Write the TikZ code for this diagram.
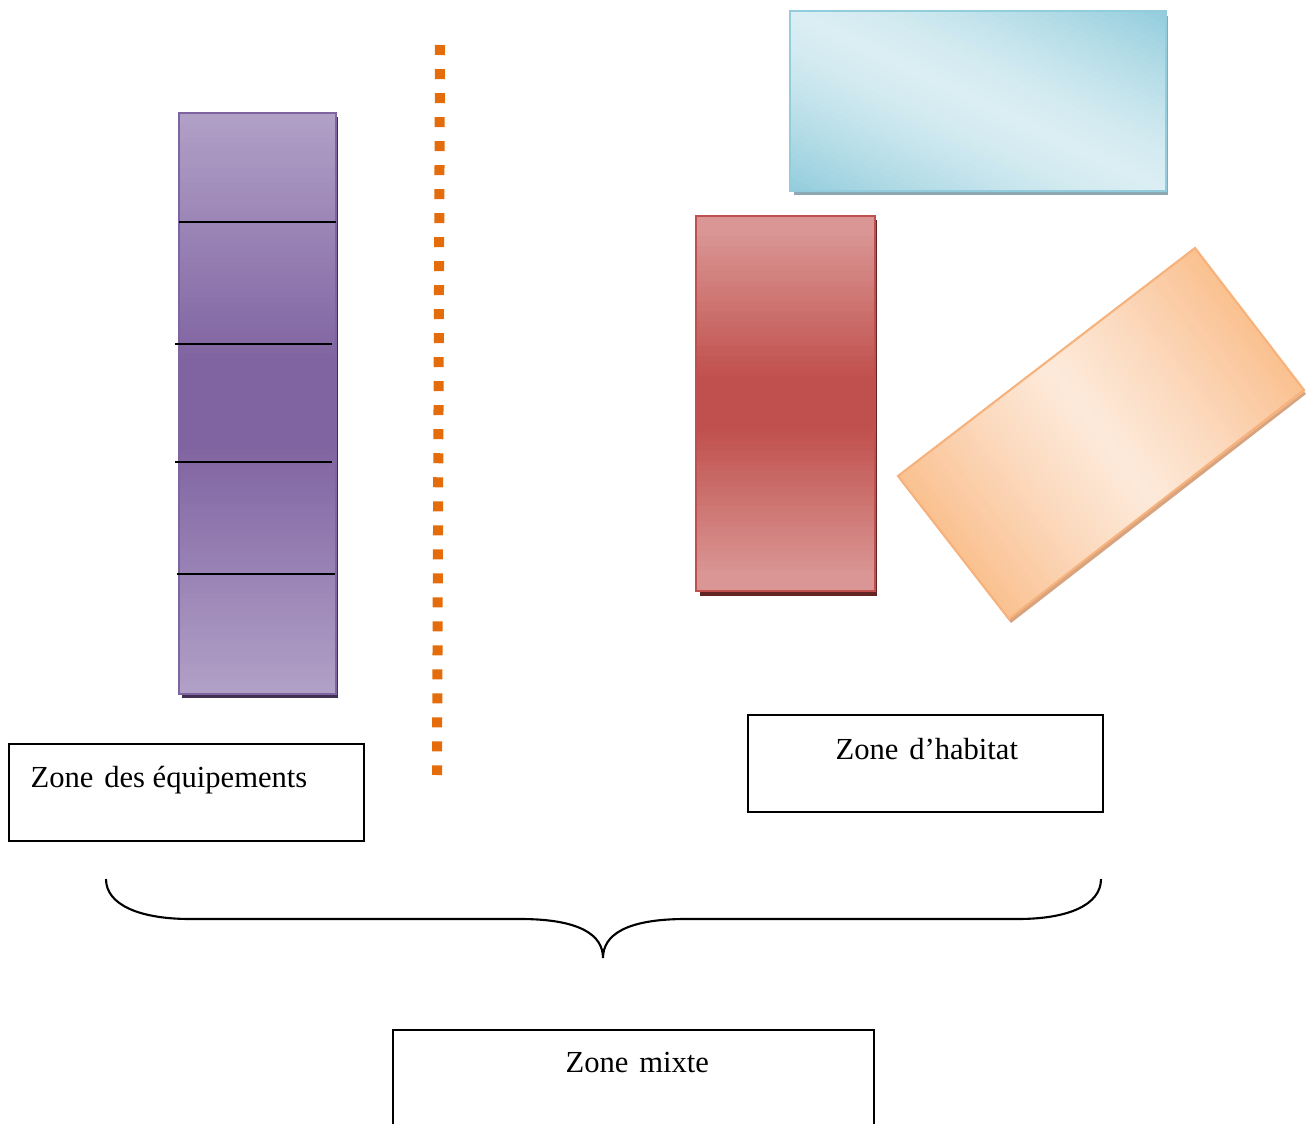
\documentclass[tikz,border=0pt]{standalone}
\usepackage{fontspec}
\setmainfont{Liberation Serif}
\usetikzlibrary{positioning}

\definecolor{equiplight}{HTML}{B2A1C7}
\definecolor{equipdark}{HTML}{8064A2}
\definecolor{equipshadow}{HTML}{403152}
\definecolor{bluelight}{HTML}{DAEEF3}
\definecolor{bluedark}{HTML}{93CDDD}
\definecolor{blueshadow}{HTML}{8CA8B2}
\definecolor{redlight}{HTML}{D99694}
\definecolor{reddark}{HTML}{C0504D}
\definecolor{redshadow}{HTML}{632523}
\definecolor{orangelight}{HTML}{FDE9D9}
\definecolor{orangedark}{HTML}{FAC090}
\definecolor{orangeedge}{HTML}{F7B27C}
\definecolor{orangeshadow}{HTML}{D8A47F}
\definecolor{divorange}{HTML}{E46C0A}

\begin{document}
\begin{tikzpicture}[
  x=0.01cm, y=-0.01cm,
  zonebox/.style={draw,line width=0.6pt,minimum width=3.55cm,minimum height=0.97cm,inner sep=0pt},
  zonetext/.style={font=\fontsize{8.7}{11}\selectfont,inner sep=0pt},
  splitline/.style={line width=0.6pt},
  divider/.style={draw=divorange,line width=0.1cm,dash pattern=on 0.1cm off 0.14cm}
]
\useasboundingbox (0,0) rectangle (1314,1124);

% equipements
\fill[equipshadow] (182,117) rectangle (338,698);
\foreach \i in {0,...,115} {
  \pgfmathsetmacro\ya{113+\i*5.009}
  \pgfmathtruncatemacro\t{100*min(1,max(0,(abs(\i+0.5-58)-8)/50))}
  \fill[equiplight!\t!equipdark] (179,\ya) rectangle (336,\ya+6);
}
\draw[equipdark,line width=0.6pt] (179,113) rectangle (336,694);
\draw[splitline] (179,222) -- (336,222);
\draw[splitline] (175,344) -- (332,344);
\draw[splitline] (175,462) -- (332,462);
\draw[splitline] (177,574) -- (335,574);

% limite
\coordinate (divtop) at (440,45);
\coordinate (divbot) at (437,775);
\draw[divider] (divtop) -- (divbot);

% habitat
\fill[blueshadow] (794,16) rectangle (1168,195);
\begin{scope}
  \clip (790,11) rectangle (1166,191);
  \begin{scope}[shift={(978,101)},rotate=-25.6]
    \foreach \i in {0,...,55} {
      \pgfmathsetmacro\ya{-168+\i*6}
      \pgfmathtruncatemacro\t{100*min(1,(abs(\ya+3)/160)^1.4)}
      \fill[bluedark!\t!bluelight] (-240,\ya) rectangle (240,\ya+7);
    }
  \end{scope}
\end{scope}
\draw[bluedark,line width=0.6pt] (790,11) rectangle (1166,191);

\fill[redshadow] (700,220) rectangle (877,596);
\foreach \i in {0,...,74} {
  \pgfmathsetmacro\ya{216+\i*5}
  \pgfmathtruncatemacro\t{100*min(1,max(0,(abs(\i+0.5-37.5)-5)/29))}
  \fill[redlight!\t!reddark] (696,\ya) rectangle (875,\ya+6);
}
\draw[reddark,line width=0.6pt] (696,216) rectangle (875,591);

\fill[orangeshadow] (1197,252) -- (1306,394) -- (1011,623) -- (900,480) -- cycle;
\begin{scope}[shift={(1101.5,433.25)},rotate=37.5]
  \foreach \i in {0,...,61} {
    \pgfmathsetmacro\xa{-187+\i*6.032}
    \pgfmathtruncatemacro\t{100*(abs(\xa+3)/187)^1.2}
    \fill[orangedark!\t!orangelight] (\xa,-90.5) rectangle ({min(187,\xa+7)},90.5);
  }
\end{scope}
\draw[orangeedge,line width=0.6pt] (1195,248) -- (1304,390) -- (1009,619) -- (898,476) -- cycle;

% zones
\node[zonebox] (equip) at (186.5,792.5) {};
\node[zonetext,anchor=base west] (equiptxt) at (30,787) {Zone\hspace{0.1em} des équipements};
\node[zonebox] (habitat) at (925.5,763.5) {};
\node[zonetext,anchor=base west] (habitattxt) at (835,759) {Zone\hspace{0.1em} d’habitat};
\node[zonebox,minimum width=4.81cm] (mixte) at (633.5,1078.5) {};
\node[zonetext,anchor=base west] (mixtetxt) at (565,1072) {Zone\hspace{0.1em} mixte};

% accolade
\draw[line width=0.6pt] (106,879) .. controls (106,905) and (140,919) .. (190,919) -- (520,919)
  .. controls (580,919) and (603,935) .. (603,958)
  .. controls (603,935) and (626,919) .. (686,919) -- (1018,919)
  .. controls (1068,919) and (1101,905) .. (1101,879);
\end{tikzpicture}
\end{document}
